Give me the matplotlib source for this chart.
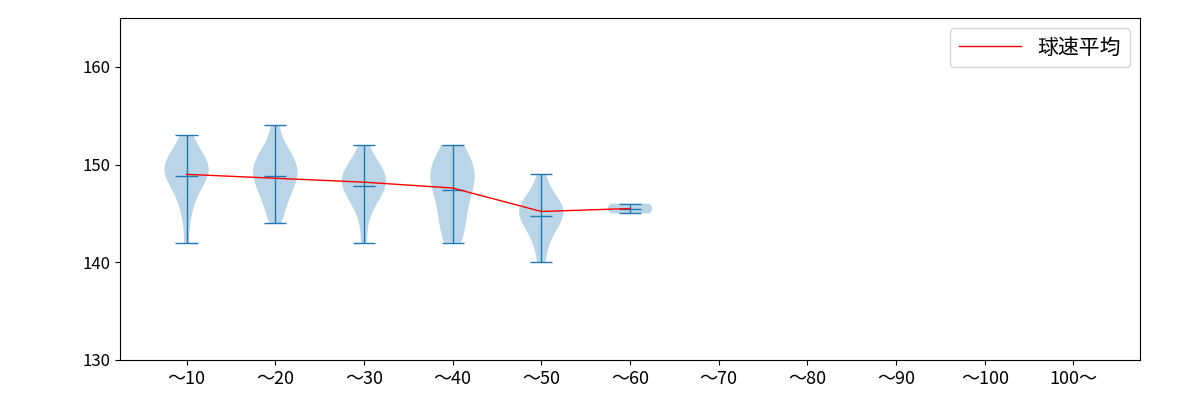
import matplotlib
matplotlib.use("Agg")
import matplotlib.pyplot as plt
import numpy as np

plt.rcParams['font.family'] = ['Noto Sans CJK JP', 'DejaVu Sans']

labels = ["～10", "～20", "～30", "～40", "～50", "～60", "～70", "～80", "～90", "～100", "100～"]
b1 = [142, 145, 146, 147, 148, 148, 149, 149, 149, 149, 150, 150, 150, 150, 151, 151, 152, 153]
b2 = [144, 145, 146, 147, 147, 148, 148, 149, 149, 149, 150, 150, 150, 151, 151, 152, 154]
b3 = [142, 145, 146, 147, 147, 148, 148, 148, 149, 149, 149, 150, 150, 152]
b4 = [142, 143, 144, 145, 146, 147, 148, 148, 149, 149, 150, 150, 151, 152]
b5 = [140, 142, 143, 144, 144, 145, 145, 145, 146, 146, 146, 147, 149]
b6 = [145, 146]
samples = [b1, b2, b3, b4, b5, b6]
means = [149.0, 148.6, 148.2, 147.6, 145.2, 145.5]

fig, ax = plt.subplots(figsize=(12, 4), dpi=100)
fig.subplots_adjust(left=0.1, right=0.95, top=0.955, bottom=0.1)
pos = list(range(1, len(samples) + 1))
parts = ax.violinplot(samples, positions=pos, showmeans=True, showextrema=True)
for k in ('cmeans', 'cmins', 'cmaxes', 'cbars'):
    parts[k].set_linewidth(1)
ax.plot(pos, means, color='red', lw=1, label='球速平均')
ax.set_xticks(range(1, len(labels) + 1))
ax.set_xticklabels(labels, fontsize=13)
ax.set_xlim(0.25, 11.75)
ax.set_ylim(130, 165)
ax.set_yticks([130, 140, 150, 160])
ax.tick_params(axis='y', labelsize=12)
ax.legend(loc='upper right', fontsize=15, handlelength=3)
fig.savefig("out.png")
